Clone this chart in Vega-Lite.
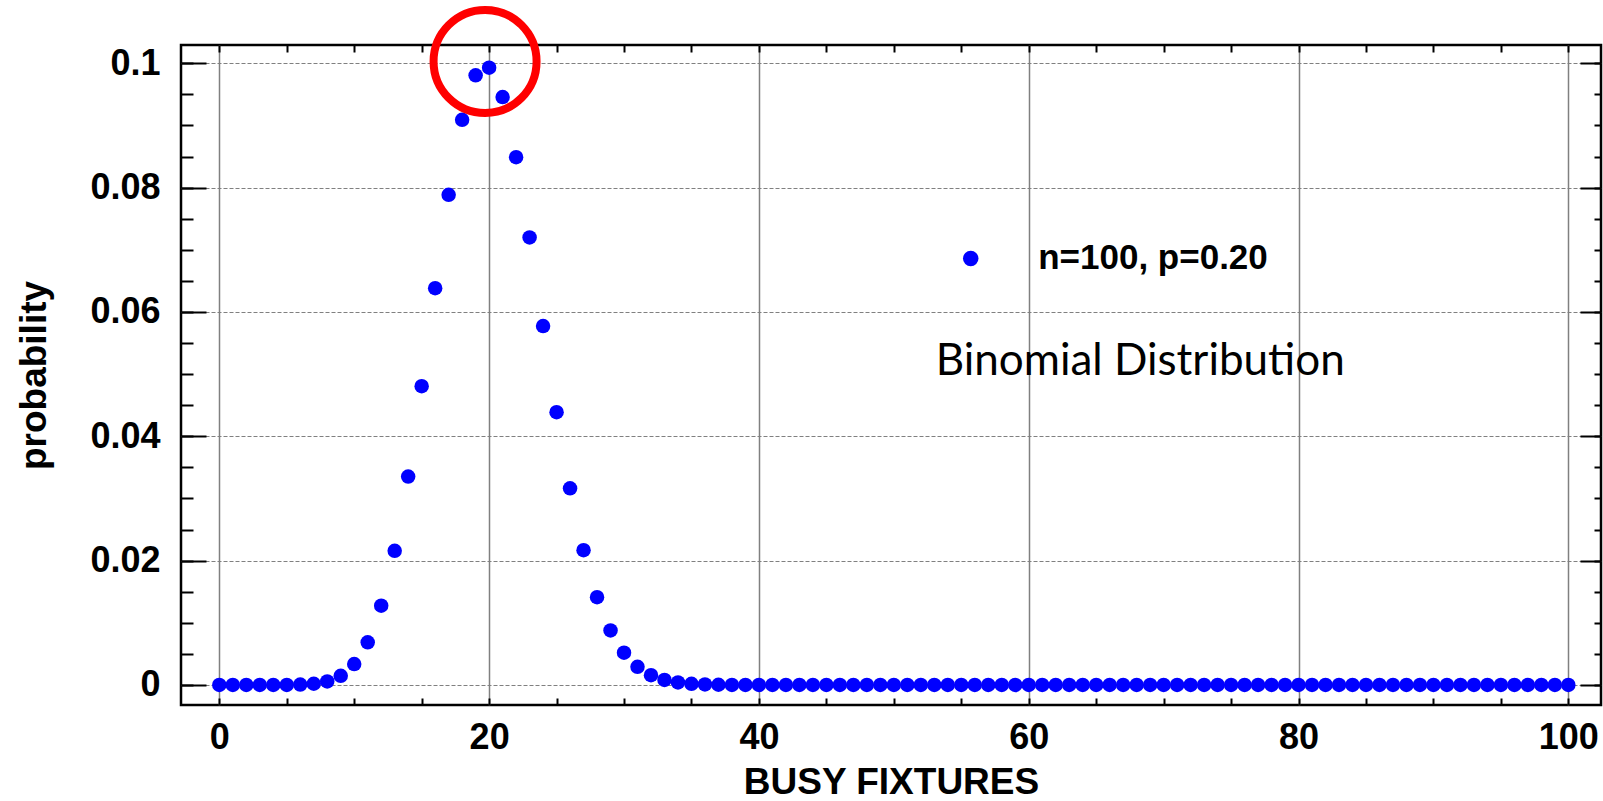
{
  "$schema": "https://vega.github.io/schema/vega-lite/v6.json",
  "width": 1420,
  "height": 660,
  "autosize": "none",
  "padding": {"left": 181, "top": 45, "right": 2, "bottom": 96},
  "background": "white",
  "config": {
    "view": {"stroke": "black", "strokeWidth": 2.5},
    "axis": {
      "labelFont": "Liberation Sans",
      "labelFontWeight": "bold",
      "labelFontSize": 36,
      "labelColor": "black",
      "titleFont": "Liberation Sans",
      "titleFontWeight": "bold",
      "titleFontSize": 37,
      "titleColor": "black",
      "domain": false,
      "tickColor": "black",
      "tickWidth": 2
    }
  },
  "datasets": {
    "pmf": [
      {"k": 0, "p": 0.0000000002}, {"k": 1, "p": 0.000000005}, {"k": 2, "p": 0.00000006}, {"k": 3, "p": 0.0000005},
      {"k": 4, "p": 0.000003}, {"k": 5, "p": 0.000015}, {"k": 6, "p": 0.000059}, {"k": 7, "p": 0.000198},
      {"k": 8, "p": 0.000575}, {"k": 9, "p": 0.00147}, {"k": 10, "p": 0.00336}, {"k": 11, "p": 0.00687},
      {"k": 12, "p": 0.01275}, {"k": 13, "p": 0.02158}, {"k": 14, "p": 0.03353}, {"k": 15, "p": 0.04806},
      {"k": 16, "p": 0.06383}, {"k": 17, "p": 0.07885}, {"k": 18, "p": 0.0909}, {"k": 19, "p": 0.09807},
      {"k": 20, "p": 0.0993}, {"k": 21, "p": 0.09457}, {"k": 22, "p": 0.0849}, {"k": 23, "p": 0.07198},
      {"k": 24, "p": 0.05773}, {"k": 25, "p": 0.04388}, {"k": 26, "p": 0.03164}, {"k": 27, "p": 0.02168},
      {"k": 28, "p": 0.01413}, {"k": 29, "p": 0.00877}, {"k": 30, "p": 0.00519}, {"k": 31, "p": 0.00293},
      {"k": 32, "p": 0.00158}, {"k": 33, "p": 0.00081}, {"k": 34, "p": 0.0004}, {"k": 35, "p": 0.00019},
      {"k": 36, "p": 0.000085}, {"k": 37, "p": 0.000037}, {"k": 38, "p": 0.000015}, {"k": 39, "p": 0.000006},
      {"k": 40, "p": 0.000002}, {"k": 41, "p": 0}, {"k": 42, "p": 0}, {"k": 43, "p": 0},
      {"k": 44, "p": 0}, {"k": 45, "p": 0}, {"k": 46, "p": 0}, {"k": 47, "p": 0},
      {"k": 48, "p": 0}, {"k": 49, "p": 0}, {"k": 50, "p": 0}, {"k": 51, "p": 0},
      {"k": 52, "p": 0}, {"k": 53, "p": 0}, {"k": 54, "p": 0}, {"k": 55, "p": 0},
      {"k": 56, "p": 0}, {"k": 57, "p": 0}, {"k": 58, "p": 0}, {"k": 59, "p": 0},
      {"k": 60, "p": 0}, {"k": 61, "p": 0}, {"k": 62, "p": 0}, {"k": 63, "p": 0},
      {"k": 64, "p": 0}, {"k": 65, "p": 0}, {"k": 66, "p": 0}, {"k": 67, "p": 0},
      {"k": 68, "p": 0}, {"k": 69, "p": 0}, {"k": 70, "p": 0}, {"k": 71, "p": 0},
      {"k": 72, "p": 0}, {"k": 73, "p": 0}, {"k": 74, "p": 0}, {"k": 75, "p": 0},
      {"k": 76, "p": 0}, {"k": 77, "p": 0}, {"k": 78, "p": 0}, {"k": 79, "p": 0},
      {"k": 80, "p": 0}, {"k": 81, "p": 0}, {"k": 82, "p": 0}, {"k": 83, "p": 0},
      {"k": 84, "p": 0}, {"k": 85, "p": 0}, {"k": 86, "p": 0}, {"k": 87, "p": 0},
      {"k": 88, "p": 0}, {"k": 89, "p": 0}, {"k": 90, "p": 0}, {"k": 91, "p": 0},
      {"k": 92, "p": 0}, {"k": 93, "p": 0}, {"k": 94, "p": 0}, {"k": 95, "p": 0},
      {"k": 96, "p": 0}, {"k": 97, "p": 0}, {"k": 98, "p": 0}, {"k": 99, "p": 0},
      {"k": 100, "p": 0}
    ],
    "legend": [{"k": 55.7, "p": 0.0686, "label": "n=100, p=0.20", "tx": 60.7}],
    "note": [{"k": 53.1, "p": 0.0519, "label": "Binomial Distribution"}],
    "ring": [{"k": 19.7, "p": 0.1003}]
  },
  "layer": [
    {
      "data": {"name": "pmf"},
      "mark": {"type": "point", "filled": true, "color": "#0000ff", "opacity": 1, "size": 210},
      "encoding": {
        "x": {
          "field": "k", "type": "quantitative",
          "scale": {"domain": [-2.84, 102.42], "nice": false, "zero": false},
          "axis": {
            "orient": "bottom", "values": [0, 20, 40, 60, 80, 100],
            "grid": true, "gridColor": "#808080", "gridWidth": 1.5,
            "ticks": false, "labelPadding": 15, "title": "BUSY FIXTURES", "titlePadding": 9
          }
        },
        "y": {
          "field": "p", "type": "quantitative",
          "scale": {"domain": [-0.00322, 0.10294], "nice": false, "zero": false},
          "axis": {
            "orient": "left", "values": [0, 0.02, 0.04, 0.06, 0.08, 0.1],
            "format": ".2~f",
            "grid": true, "gridColor": "#808080", "gridWidth": 1.2, "gridDash": [4, 2],
            "ticks": false, "labelPadding": 21, "title": "probability", "titlePadding": 36
          }
        }
      }
    },
    {
      "data": {"name": "pmf"},
      "mark": {"type": "point", "opacity": 0},
      "encoding": {
        "x": {
          "field": "k", "type": "quantitative",
          "axis": {
            "orient": "bottom",
            "values": [0, 5, 10, 15, 20, 25, 30, 35, 40, 45, 50, 55, 60, 65, 70, 75, 80, 85, 90, 95, 100],
            "tickSize": -7, "labels": false, "grid": false, "title": null
          }
        },
        "y": {
          "field": "p", "type": "quantitative",
          "axis": {
            "orient": "left",
            "values": [0, 0.005, 0.01, 0.015, 0.02, 0.025, 0.03, 0.035, 0.04, 0.045, 0.05, 0.055, 0.06, 0.065, 0.07, 0.075, 0.08, 0.085, 0.09, 0.095, 0.1],
            "tickSize": -12, "labels": false, "grid": false, "title": null
          }
        }
      }
    },
    {
      "data": {"name": "pmf"},
      "mark": {"type": "point", "opacity": 0},
      "encoding": {
        "x": {
          "field": "k", "type": "quantitative",
          "axis": {
            "orient": "top",
            "values": [0, 5, 10, 15, 20, 25, 30, 35, 40, 45, 50, 55, 60, 65, 70, 75, 80, 85, 90, 95, 100],
            "tickSize": -7, "labels": false, "grid": false, "title": null
          }
        },
        "y": {
          "field": "p", "type": "quantitative",
          "axis": {
            "orient": "right",
            "values": [0, 0.005, 0.01, 0.015, 0.02, 0.025, 0.03, 0.035, 0.04, 0.045, 0.05, 0.055, 0.06, 0.065, 0.07, 0.075, 0.08, 0.085, 0.09, 0.095, 0.1],
            "tickSize": -7, "labels": false, "grid": false, "title": null
          }
        }
      }
    },
    {
      "data": {"name": "pmf"},
      "mark": {"type": "point", "opacity": 0},
      "encoding": {
        "x": {"field": "k", "type": "quantitative", "axis": null},
        "y": {
          "field": "p", "type": "quantitative",
          "axis": {
            "orient": "left", "values": [0, 0.02, 0.04, 0.06, 0.08, 0.1],
            "tickSize": -25, "labels": false, "grid": false, "title": null
          }
        }
      }
    },
    {
      "data": {"name": "pmf"},
      "mark": {"type": "point", "opacity": 0},
      "encoding": {
        "x": {"field": "k", "type": "quantitative", "axis": null},
        "y": {
          "field": "p", "type": "quantitative",
          "axis": {
            "orient": "right", "values": [0, 0.02, 0.04, 0.06, 0.08, 0.1],
            "tickSize": -21, "labels": false, "grid": false, "title": null
          }
        }
      }
    },
    {
      "data": {"name": "legend"},
      "mark": {"type": "point", "filled": true, "color": "#0000ff", "opacity": 1, "size": 240},
      "encoding": {
        "x": {"field": "k", "type": "quantitative", "axis": null},
        "y": {"field": "p", "type": "quantitative", "axis": null}
      }
    },
    {
      "data": {"name": "legend"},
      "mark": {"type": "text", "align": "left", "baseline": "middle", "font": "Liberation Sans", "fontWeight": "bold", "fontSize": 35, "color": "black"},
      "encoding": {
        "x": {"field": "tx", "type": "quantitative", "axis": null},
        "y": {"field": "p", "type": "quantitative", "axis": null},
        "text": {"field": "label"}
      }
    },
    {
      "data": {"name": "note"},
      "mark": {"type": "text", "align": "left", "baseline": "middle", "font": "Lato", "fontSize": 44, "color": "black"},
      "encoding": {
        "x": {"field": "k", "type": "quantitative", "axis": null},
        "y": {"field": "p", "type": "quantitative", "axis": null},
        "text": {"field": "label"}
      }
    },
    {
      "data": {"name": "ring"},
      "mark": {"type": "point", "shape": "circle", "filled": false, "stroke": "#ff0000", "strokeWidth": 8, "opacity": 1, "size": 10609},
      "encoding": {
        "x": {"field": "k", "type": "quantitative", "axis": null},
        "y": {"field": "p", "type": "quantitative", "axis": null}
      }
    }
  ],
  "resolve": {"axis": {"x": "independent", "y": "independent"}}
}
